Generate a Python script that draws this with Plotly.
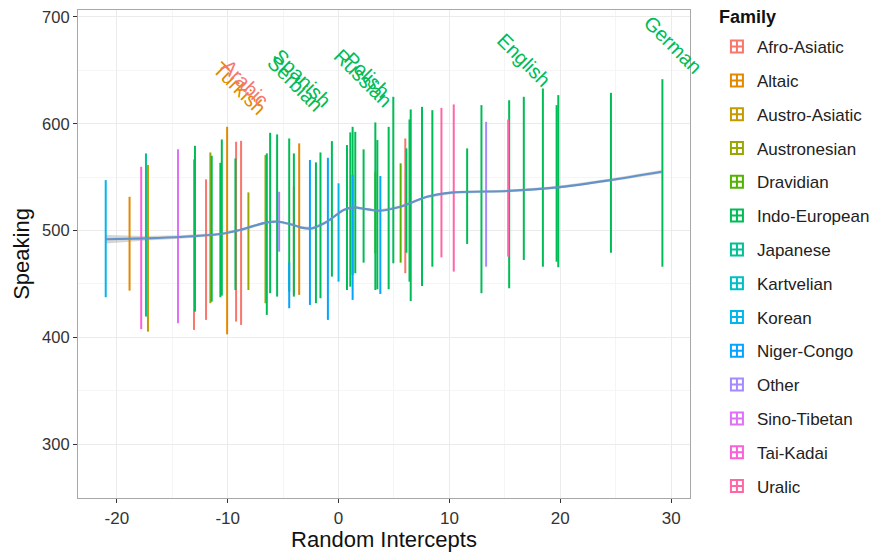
import plotly.graph_objects as go

families = ["Afro-Asiatic", "Altaic", "Austro-Asiatic", "Austronesian", "Dravidian",
            "Indo-European", "Japanese", "Kartvelian", "Korean", "Niger-Congo",
            "Other", "Sino-Tibetan", "Tai-Kadai", "Uralic"]
family_colors = ["#F8766D", "#E38900", "#C49A00", "#99A800", "#53B400", "#00BC56",
                 "#00C094", "#00BFC4", "#00B6EB", "#06A4FF", "#A58AFF", "#DF70F8",
                 "#FB61D7", "#FF66A8"]

# one vertical range per language: random intercept, min and max Speaking score
lang_x = [-21.0, -18.85, -17.8, -17.37, -17.19, -14.48, -13.04, -12.95, -11.95, -11.56,
          -11.44, -10.66, -10.53, -10.05, -9.24, -9.30, -8.79, -8.13, -6.59, -6.47,
          -6.17, -5.54, -5.36, -4.45, -4.45, -4.03, -4.03, -3.55, -2.58, -2.04,
          -1.63, -0.96, -0.60, 0.00, 0.76, 1.06, 1.27, 1.27, 1.51, 2.26,
          3.32, 3.32, 3.50, 3.77, 4.52, 4.94, 5.60, 6.02, 6.12, 6.51,
          6.40, 7.53, 8.46, 9.28, 10.39, 11.60, 12.89, 13.31, 15.30, 15.39,
          16.71, 18.43, 19.67, 19.82, 24.57, 29.21]
lang_low = [437.5, 443.7, 407.6, 419.4, 405.3, 413.2, 406.9, 424.0, 416.3, 431.9,
            433.4, 437.5, 439.0, 402.8, 414.7, 444.3, 411.6, 444.3, 431.9, 421.0,
            441.3, 438.1, 480.2, 427.2, 442.8, 440.0, 438.1, 439.7, 430.3, 431.9,
            436.6, 416.3, 456.8, 452.1, 444.3, 447.4, 458.4, 435.0, 460.0, 469.9,
            444.3, 478.7, 445.0, 440.6, 445.0, 469.3, 469.9, 460.0, 479.2, 434.0,
            452.1, 448.0, 466.1, 474.9, 461.5, 487.4, 441.3, 466.1, 475.5, 445.9,
            472.4, 466.1, 470.8, 465.6, 479.2, 466.1]
lang_high = [547.2, 531.6, 559.7, 572.2, 561.3, 576.0, 566.6, 579.3, 547.9, 573.1,
             570.0, 563.4, 585.3, 597.1, 583.1, 567.5, 584.0, 535.7, 570.6, 572.2,
             591.5, 590.0, 536.3, 470.0, 586.2, 541.0, 572.2, 581.6, 566.0, 563.8,
             573.1, 568.1, 583.7, 544.2, 580.0, 591.9, 597.1, 552.0, 592.4, 576.0,
             601.2, 555.0, 584.7, 551.0, 597.1, 625.2, 562.9, 586.2, 576.9, 613.4,
             604.0, 615.8, 612.7, 614.9, 618.1, 576.9, 617.4, 601.8, 604.0, 622.0,
             625.2, 633.0, 617.4, 626.8, 628.9, 641.7]
lang_family = ["Korean", "Altaic", "Tai-Kadai", "Japanese", "Austro-Asiatic", "Sino-Tibetan",
               "Afro-Asiatic", "Indo-European", "Afro-Asiatic", "Austronesian",
               "Indo-European", "Indo-European", "Indo-European", "Altaic", "Afro-Asiatic",
               "Indo-European", "Afro-Asiatic", "Austronesian", "Austronesian", "Indo-European",
               "Indo-European", "Indo-European", "Other", "Niger-Congo", "Indo-European",
               "Afro-Asiatic", "Indo-European", "Altaic", "Niger-Congo", "Indo-European",
               "Indo-European", "Niger-Congo", "Indo-European", "Korean", "Indo-European",
               "Indo-European", "Indo-European", "Niger-Congo", "Indo-European", "Indo-European",
               "Indo-European", "Dravidian", "Indo-European", "Niger-Congo", "Indo-European",
               "Indo-European", "Dravidian", "Afro-Asiatic", "Indo-European", "Indo-European",
               "Indo-European", "Indo-European", "Indo-European", "Uralic", "Uralic",
               "Indo-European", "Indo-European", "Other", "Uralic", "Indo-European",
               "Indo-European", "Indo-European", "Indo-European", "Indo-European",
               "Indo-European", "Indo-European"]

# smoothed trend (loess) with its confidence band
smooth_x = [-21.0, -17.3, -14.3, -10.7, -8.9, -6.47, -5.42, -4.06, -3.46, -2.4,
            -1.05, 0.45, 1.36, 2.5, 3.61, 5.57, 7.98, 10.39, 15.21, 19.73, 24.54, 29.15]
smooth_y = [491.8, 492.7, 493.9, 496.7, 500.5, 507.7, 508.2, 505.1, 503.0, 502.0,
            508.2, 519.2, 521.7, 520.0, 518.5, 522.3, 531.6, 535.7, 537.0, 540.4, 547.2, 555.0]
smooth_lo = [487.8, 490.6, 492.3, 495.4, 499.3, 506.5, 507.0, 503.9, 501.8, 500.8,
             507.0, 518.0, 520.5, 518.8, 517.3, 521.1, 530.4, 534.5, 535.8, 539.2, 545.8, 553.4]
smooth_hi = [495.8, 494.8, 495.5, 498.0, 501.7, 508.9, 509.4, 506.3, 504.2, 503.2,
             509.4, 520.4, 522.9, 521.2, 519.7, 523.5, 532.8, 536.9, 538.2, 541.6, 548.6, 556.6]

# labelled languages
label_text = ["Turkish", "Arabic", "Serbian", "Spanish", "Russian", "Polish", "English", "German"]
label_x = [-8.97, -8.43, -3.85, -3.3, 2.2, 2.6, 16.71, 30.2]
label_y = [633.0, 638.3, 637.6, 643.0, 643.0, 646.0, 659.5, 674.0]
label_family = ["Altaic", "Afro-Asiatic", "Indo-European", "Indo-European",
                "Indo-European", "Indo-European", "Indo-European", "Indo-European"]

x_ticks = [-20, -10, 0, 10, 20, 30]
x_tick_text = ["-20", "-10", "0", "10", "20", "30"]
y_ticks = [300, 400, 500, 600, 700]

color_of = dict(zip(families, family_colors))
FONT = "Liberation Sans, Arial, sans-serif"

fig = go.Figure()

fig.add_trace(go.Scatter(x=smooth_x + smooth_x[::-1], y=smooth_hi + smooth_lo[::-1],
                         fill="toself", fillcolor="rgba(150,150,150,0.4)",
                         line=dict(width=0), mode="lines", showlegend=False,
                         hoverinfo="skip"))

for fam in families:
    xs, ys = [], []
    for x, lo, hi, f in zip(lang_x, lang_low, lang_high, lang_family):
        if f == fam:
            xs += [x, x, None]
            ys += [lo, hi, None]
    if xs:
        fig.add_trace(go.Scatter(x=xs, y=ys, mode="lines",
                                 line=dict(color=color_of[fam], width=2),
                                 showlegend=False, legendgroup=fam, hoverinfo="skip"))

fig.add_trace(go.Scatter(x=smooth_x, y=smooth_y, mode="lines",
                         line=dict(color="#6393C9", width=2.2, shape="spline", smoothing=0.8),
                         showlegend=False))

for fam in families:
    fig.add_trace(go.Scatter(x=[None], y=[None], mode="markers", name=fam,
                             legendgroup=fam,
                             marker=dict(symbol="square-cross-open", size=18,
                                         color=color_of[fam], line=dict(width=1.5))))

for t, x, y, f in zip(label_text, label_x, label_y, label_family):
    fig.add_annotation(x=x, y=y, text=t, showarrow=False, textangle=45,
                       xanchor="center", yanchor="middle",
                       font=dict(family=FONT, size=20, color=color_of[f]))

fig.add_annotation(xref="paper", yref="paper", x=1.044, y=0.985, text="<b>Family</b>",
                   showarrow=False, xanchor="left", yanchor="middle",
                   font=dict(family=FONT, size=18, color="#111"))

fig.update_layout(
    width=870, height=550,
    margin=dict(l=70, r=188, t=2, b=60, autoexpand=False),
    plot_bgcolor="white", paper_bgcolor="white",
    font=dict(family=FONT, color="#222"),
    legend=dict(font=dict(size=17, color="#222"), x=1.044, xanchor="left",
                y=0.961, yanchor="top", tracegroupgap=8.7, itemsizing="constant",
                maxheight=1.0),
)
fig.update_xaxes(range=[-23.5, 31.7], tickvals=x_ticks, ticktext=x_tick_text,
                 ticks="outside", ticklen=4, ticklabeloverflow="allow",
                 tickcolor="#333", tickfont=dict(size=17, color="#333"),
                 showgrid=True, gridcolor="#EBEBEB", gridwidth=1,
                 minor=dict(dtick=5, tick0=0, showgrid=True, gridcolor="#F5F5F5", ticks=""),
                 showline=True, linecolor="#A8A8A8", linewidth=1.2, mirror=True,
                 zeroline=False,
                 title=dict(text="Random Intercepts", font=dict(size=22, color="#111"), standoff=5))
fig.update_yaxes(range=[249.5, 706.5], tickvals=y_ticks, ticks="outside", ticklen=4,
                 ticklabeloverflow="allow",
                 tickcolor="#333", tickfont=dict(size=16.5, color="#333"),
                 showgrid=True, gridcolor="#EBEBEB", gridwidth=1,
                 minor=dict(dtick=50, tick0=0, showgrid=True, gridcolor="#F5F5F5", ticks=""),
                 showline=True, linecolor="#A8A8A8", linewidth=1.2, mirror=True,
                 zeroline=False,
                 title=dict(text="Speaking", font=dict(size=22, color="#111"), standoff=6))

fig.write_html("out.html")
